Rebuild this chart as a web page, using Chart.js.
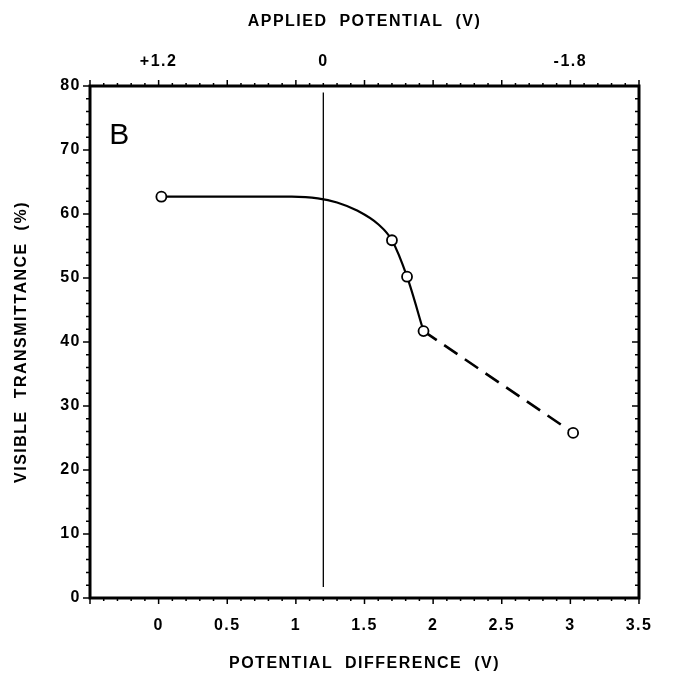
<!DOCTYPE html>
<html>
<head>
<meta charset="utf-8">
<script src="https://cdn.jsdelivr.net/npm/chart.js@4/dist/chart.umd.min.js"></script>
<style>
  html, body { margin: 0; padding: 0; background: #fff; }
  #wrap { width: 673px; height: 677px; position: relative; }
</style>
</head>
<body>
<div id="wrap"><canvas id="chart"></canvas></div>
<script>
// --- Data ---
const potentialDiff = [0.02, 1.70, 1.81, 1.93, 3.02];        // V (bottom axis)
const transmittance = [62.7, 55.9, 50.2, 41.7, 25.8];         // %

// hand-drawn solid fit through the first four points
const curveX = [0.02, 0.97, 1.16, 1.30, 1.45, 1.60, 1.70, 1.81, 1.93];
const curveY = [62.7, 62.7, 62.45, 61.8, 60.5, 58.4, 55.9, 50.2, 41.7];

// dashed extension
const dashX = [1.93, 3.02];
const dashY = [41.7, 25.8];

// 0 V applied potential marker
const zeroLineX = [1.2, 1.2];
const zeroLineY = [1.7, 79.0];

const xTickLabels = [0, 0.5, 1, 1.5, 2, 2.5, 3, 3.5];
const yTickLabels = [0, 10, 20, 30, 40, 50, 60, 70, 80];
const topTickAt = [0, 1.2, 3];            // positions on bottom scale
const topTickText = ['+1.2', '0', '-1.8']; // applied potential labels

const pts = (xs, ys) => xs.map((x, i) => ({ x: x, y: ys[i] }));
const tickFont = { family: 'Liberation Sans, Arial, sans-serif', size: 16, weight: 'bold' };
const titleFont = { family: 'Liberation Sans, Arial, sans-serif', size: 16, weight: 'bold' };

// --- tick marks, frame and panel letter ---
const framePlugin = {
    id: 'frame',
    beforeDraw(chart) {
        // the original typeface is widely tracked
        chart.ctx.letterSpacing = '1.5px';
    },
    afterDraw(chart) {
        const { ctx, chartArea: a } = chart;
        const xs = chart.scales.x, ys = chart.scales.y;
        ctx.save();
        ctx.strokeStyle = '#000';
        ctx.lineWidth = 1.5;
        // x ticks every 0.1, bigger every 0.5
        for (let i = -5; i <= 35; i++) {
            const px = xs.getPixelForValue(i / 10);
            const len = i % 5 === 0 ? 6 : 3;
            ctx.beginPath();
            ctx.moveTo(px, a.bottom); ctx.lineTo(px, a.bottom + len);
            ctx.moveTo(px, a.top); ctx.lineTo(px, a.top - len);
            ctx.stroke();
        }
        // y ticks every 2, bigger every 10
        for (let v = 0; v <= 80; v += 2) {
            const py = ys.getPixelForValue(v);
            const len = v % 10 === 0 ? 7 : 4;
            ctx.beginPath();
            ctx.moveTo(a.left, py); ctx.lineTo(a.left - len, py);
            ctx.moveTo(a.right, py); ctx.lineTo(a.right - len, py);
            ctx.stroke();
        }
        // heavy frame
        ctx.lineWidth = 3;
        ctx.strokeRect(a.left, a.top, a.right - a.left, a.bottom - a.top);
        // panel letter
        ctx.letterSpacing = '0px';
        ctx.fillStyle = '#000';
        ctx.font = '30px "Liberation Sans", Arial, sans-serif';
        ctx.textBaseline = 'middle';
        ctx.textAlign = 'left';
        ctx.fillText('B', xs.getPixelForValue(-0.36), ys.getPixelForValue(72.3));
        ctx.restore();
    }
};

new Chart(document.getElementById('chart'), {
    type: 'scatter',
    data: {
        datasets: [
            {
                label: 'measured',
                data: pts(potentialDiff, transmittance),
                showLine: false,
                pointStyle: 'circle',
                pointRadius: 5,
                pointBackgroundColor: '#fff',
                pointBorderColor: '#000',
                pointBorderWidth: 1.8
            },
            {
                label: 'fit',
                data: pts(curveX, curveY),
                showLine: true,
                borderColor: '#000',
                borderWidth: 2.2,
                pointRadius: 0,
                cubicInterpolationMode: 'monotone'
            },
            {
                label: 'extension',
                data: pts(dashX, dashY),
                showLine: true,
                borderColor: '#000',
                borderWidth: 2.6,
                borderDash: [16, 9],
                pointRadius: 0
            },
            {
                label: 'zero',
                data: pts(zeroLineX, zeroLineY),
                showLine: true,
                borderColor: '#000',
                borderWidth: 1.3,
                pointRadius: 0
            }
        ]
    },
    options: {
        responsive: true,
        maintainAspectRatio: false,
        animation: false,
        layout: { padding: { left: 0, right: 34, top: 0, bottom: 0 } },
        plugins: { legend: { display: false }, tooltip: { enabled: false } },
        scales: {
            x: {
                type: 'linear',
                position: 'bottom',
                min: -0.5, max: 3.5,
                afterBuildTicks: (s) => { s.ticks = xTickLabels.map(v => ({ value: v })); },
                afterFit: (s) => { s.height = 79; },
                grid: { display: false, drawTicks: false },
                border: { display: false },
                ticks: {
                    color: '#000', font: tickFont, padding: 18, maxRotation: 0,
                    callback: (v) => String(v)
                },
                title: {
                    display: true, text: 'POTENTIAL  DIFFERENCE  (V)', color: '#000',
                    font: titleFont, padding: { top: 0, bottom: 4 }
                }
            },
            x2: {
                type: 'linear',
                position: 'top',
                min: -0.5, max: 3.5,
                afterBuildTicks: (s) => { s.ticks = topTickAt.map(v => ({ value: v })); },
                afterFit: (s) => { s.height = 86; },
                grid: { display: false, drawTicks: false },
                border: { display: false },
                ticks: {
                    color: '#000', font: tickFont, padding: 15, maxRotation: 0,
                    callback: (v) => topTickText[topTickAt.indexOf(v)]
                },
                title: {
                    display: true, text: 'APPLIED  POTENTIAL  (V)', color: '#000',
                    font: titleFont, padding: { top: 12, bottom: 0 }
                }
            },
            y: {
                type: 'linear',
                position: 'left',
                min: 0, max: 80,
                afterBuildTicks: (s) => { s.ticks = yTickLabels.map(v => ({ value: v })); },
                afterFit: (s) => { s.width = 90; },
                grid: { display: false, drawTicks: false },
                border: { display: false },
                ticks: { color: '#000', font: tickFont, padding: 9 },
                title: {
                    display: true, text: 'VISIBLE  TRANSMITTANCE  (%)', color: '#000',
                    font: titleFont, padding: { top: 12, bottom: 0 }
                }
            }
        }
    },
    plugins: [framePlugin]
});
</script>
</body>
</html>
